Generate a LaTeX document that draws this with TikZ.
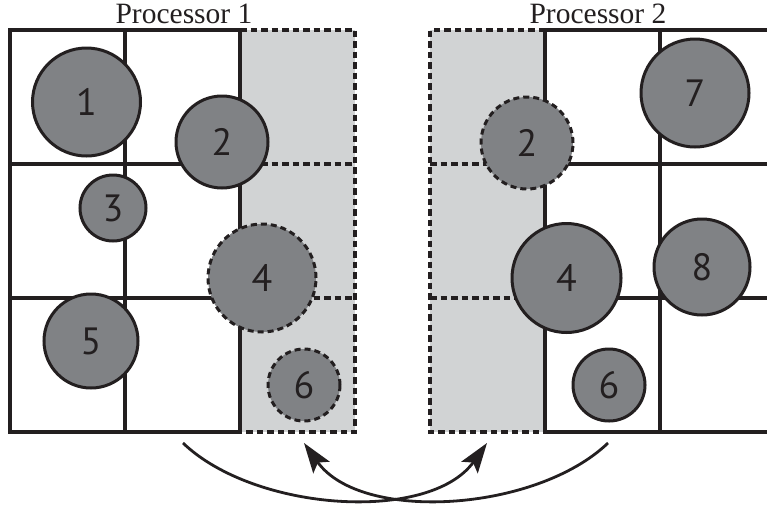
\documentclass[tikz,border=0pt]{standalone}
\usepackage{fontspec}
\setmainfont{Liberation Serif}
\newfontfamily\numfont{PT Sans}
\usetikzlibrary{arrows.meta}
\definecolor{ink}{HTML}{231F20}
\definecolor{ballgray}{HTML}{808285}
\definecolor{ghost}{HTML}{D1D3D4}
\begin{document}
\begin{tikzpicture}[x=1pt,y=-1pt,
  gridline/.style={draw=ink,line width=3.1pt},
  ghostline/.style={draw=ink,line width=3.1pt,dash pattern=on 6.5pt off 4pt},
  ball/.style={circle,fill=ballgray,draw=ink,line width=3pt,inner sep=0pt,
    font=\numfont\fontsize{38}{38}\selectfont,text=ink},
  ghostball/.style={ball,dash pattern=on 6pt off 4pt},
  proctitle/.style={font=\fontsize{29.5}{29.5}\selectfont,text=ink,inner sep=0pt},
  swap/.style={draw=ink,line width=2.8pt,-{Stealth[length=30pt,width=20pt,inset=6pt]}}]
\useasboundingbox (0,0) rectangle (767,504);
\clip (0,0) rectangle (767,504);

% ghost (halo) columns
\fill[ghost] (240,30) rectangle (355,432);
\fill[ghost] (430,30) rectangle (545,432);

% processor 1 cells
\draw[gridline] (240,30) -- (10,30) -- (10,432) -- (240,432);
\draw[gridline] (240,30) -- (240,432);
\draw[gridline] (125,30) -- (125,432);
\draw[gridline] (10,164) -- (240,164);
\draw[gridline] (10,298) -- (240,298);
\draw[ghostline] (240,30) -- (355,30) -- (355,432) -- (240,432);
\draw[ghostline] (240,164) -- (355,164);
\draw[ghostline] (240,298) -- (355,298);

% processor 2 cells
\draw[gridline] (545,30) -- (545,432);
\draw[gridline] (660,30) -- (660,432);
\draw[gridline] (545,30) -- (780,30);
\draw[gridline] (545,164) -- (780,164);
\draw[gridline] (545,298) -- (780,298);
\draw[gridline] (545,432) -- (780,432);
\draw[ghostline] (545,30) -- (430,30) -- (430,432) -- (545,432);
\draw[ghostline] (430,164) -- (545,164);
\draw[ghostline] (430,298) -- (545,298);

% titles
\node[proctitle,anchor=base] (t1) at (184,23) {Processor 1};
\node[proctitle,anchor=base] (t2) at (598,23) {Processor 2};

% particles owned by processor 1
\node[ball,minimum size=108pt] (p1) at (86.5,102) {1};
\node[ball,minimum size=92pt] (p2) at (222,142) {2};
\node[ball,minimum size=66pt] (p3) at (113,208) {3};
\node[ghostball,minimum size=108pt] (p4) at (262,278) {4};
\node[ball,minimum size=94pt] (p5) at (91,341) {5};
\node[ghostball,minimum size=72pt] (p6) at (304,385) {6};

% particles owned by processor 2
\node[ghostball,minimum size=92pt] (q2) at (527,143) {2};
\node[ball,minimum size=108pt] (q7) at (695,93) {7};
\node[ball,minimum size=109pt] (q4) at (566.5,278) {4};
\node[ball,minimum size=96pt] (q8) at (702,267) {8};
\node[ball,minimum size=72pt] (q6) at (609,385) {6};

% halo exchange
\coordinate (s1) at (183,443);
\coordinate (e1) at (487,443);
\coordinate (s2) at (608,443);
\coordinate (e2) at (304,443);
\draw[swap] (s1) .. controls (255,512) and (430,523) .. (e1);
\draw[swap] (s2) .. controls (536,512) and (361,523) .. (e2);
\end{tikzpicture}
\end{document}
